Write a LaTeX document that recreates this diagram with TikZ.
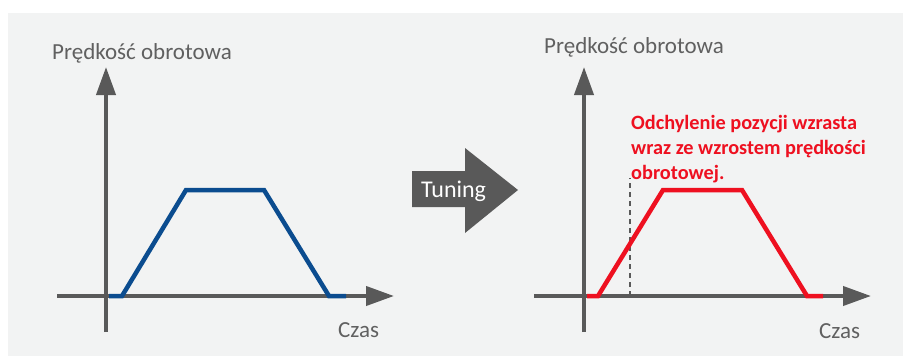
\documentclass[tikz,border=0pt]{standalone}
\usepackage{fontspec}
\setmainfont{Carlito}
\usetikzlibrary{arrows.meta}
\definecolor{panelbg}{HTML}{F2F3F3}
\definecolor{axisgray}{HTML}{595959}
\definecolor{labelgray}{HTML}{606060}
\definecolor{curveblue}{HTML}{0B4C8F}
\definecolor{curvered}{HTML}{EE1020}
\tikzset{
  axisline/.style={draw=axisgray, line width=4pt, -{Triangle[length=28pt,width=19pt]}},
  curve/.style={line width=4.5pt, line join=miter},
  axlabel/.style={text=labelgray, font=\fontsize{23}{27}\selectfont, inner sep=0pt, anchor=base west},
  note/.style={text=curvered, font=\bfseries\fontsize{20.3}{25}\selectfont, inner sep=0pt, anchor=base west},
  tunearrow/.style={fill=axisgray, draw=none},
}
\begin{document}
\begin{tikzpicture}[x=1pt,y=-1pt]
\useasboundingbox (0,0) rectangle (910,356);
\fill[white] (0,0) rectangle (910,356);
\fill[panelbg] (8,13) rectangle (903,356);

% ---- left chart ----
\coordinate (Ly0) at (106,332);
\coordinate (Ly1) at (106,67);
\coordinate (Lx0) at (57,296);
\coordinate (Lx1) at (394,296);
\draw[axisline] (Ly0) -- (Ly1);
\draw[axisline] (Lx0) -- (Lx1);
\coordinate (Lc0) at (109,296);
\coordinate (Lc1) at (122,296);
\coordinate (Lc2) at (186,190);
\coordinate (Lc3) at (264,190);
\coordinate (Lc4) at (329,296);
\coordinate (Lc5) at (346,296);
\draw[curve, curveblue] (Lc0) -- (Lc1) -- (Lc2) -- (Lc3) -- (Lc4) -- (Lc5);
\node[axlabel] (Lylab) at (52,59) {Prędkość obrotowa};
\node[axlabel] (Lxlab) at (338,337) {Czas};

% ---- tuning arrow ----
\coordinate (T0) at (412,171);
\coordinate (T1) at (465,171);
\coordinate (T2) at (465,148);
\coordinate (T3) at (518,190);
\coordinate (T4) at (465,233);
\coordinate (T5) at (465,207);
\coordinate (T6) at (412,207);
\fill[tunearrow] (T0) -- (T1) -- (T2) -- (T3) -- (T4) -- (T5) -- (T6) -- cycle;
\node[text=white, font=\fontsize{24}{28}\selectfont, inner sep=0pt, anchor=base west] (tune) at (421,197) {Tuning};

% ---- right chart ----
\coordinate (Ry0) at (584,332);
\coordinate (Ry1) at (584,67);
\coordinate (Rx0) at (534,296);
\coordinate (Rx1) at (871,296);
\draw[axisline] (Ry0) -- (Ry1);
\draw[axisline] (Rx0) -- (Rx1);
\coordinate (D0) at (630,296);
\coordinate (D1) at (630,178);
\draw[axisgray, line width=1.5pt, dash pattern=on 5pt off 4pt] (D0) -- (D1);
\coordinate (Rc0) at (587,296);
\coordinate (Rc1) at (598,296);
\coordinate (Rc2) at (663,190);
\coordinate (Rc3) at (742,190);
\coordinate (Rc4) at (807,296);
\coordinate (Rc5) at (823,296);
\draw[curve, curvered] (Rc0) -- (Rc1) -- (Rc2) -- (Rc3) -- (Rc4) -- (Rc5);
\node[axlabel] (Rylab) at (544,53) {Prędkość obrotowa};
\node[axlabel] (Rxlab) at (819,338) {Czas};
\node[note] (n1) at (631,129) {Odchylenie pozycji wzrasta};
\node[note] (n2) at (631,154) {wraz ze wzrostem prędkości};
\node[note] (n3) at (631,179) {obrotowej.};
\end{tikzpicture}
\end{document}
